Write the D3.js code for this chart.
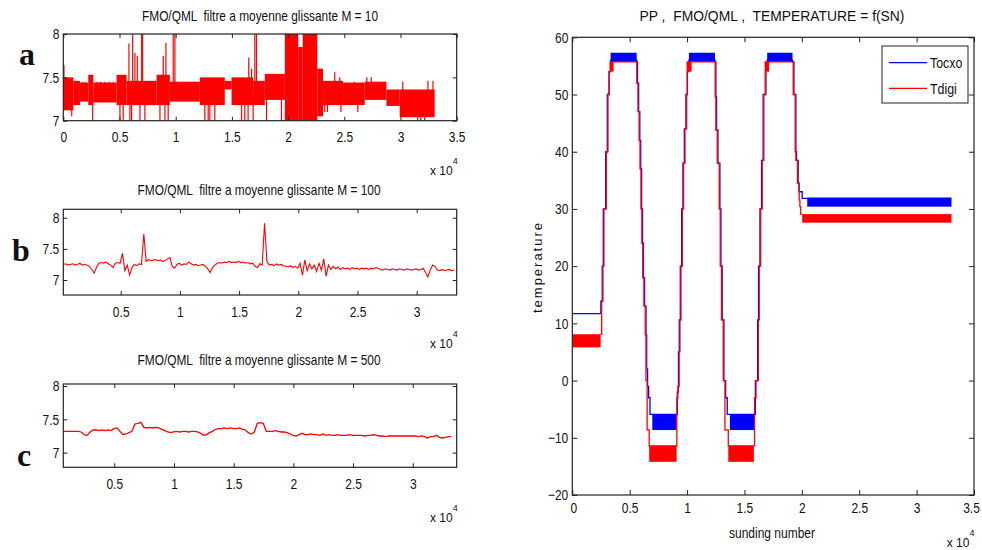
<!DOCTYPE html>
<html><head><meta charset="utf-8">
<script src="https://cdn.jsdelivr.net/npm/d3@7"></script>
<style>
body{margin:0;background:#fff}
svg{display:block}
text{font-family:"Liberation Sans",Arial,sans-serif;fill:#111}
</style>
</head><body>
<svg id="chart" width="982" height="550"></svg>
<script>
// ---------------- DATA ----------------
// Panel a (M = 10): band envelope segments (sounding number range, low/high value)
const aSegX0 = [0, 890, 1480, 2220, 2670, 4740, 5630, 8300, 9480, 12150, 14370, 14970, 16890, 17930, 19710, 20900, 21300, 22600, 23110, 24890, 26820, 28750, 29330, 29930];
const aSegX1 = [890, 1480, 2220, 2670, 4740, 5630, 8300, 9480, 12150, 14370, 14970, 16890, 17930, 19710, 20900, 21300, 22600, 23110, 24890, 26820, 28750, 29330, 29930, 33040];
const aSegLo = [7.12, 7.18, 7.22, 7.18, 7.21, 7.18, 7.18, 7.18, 7.22, 7.18, 7.36, 7.18, 7.18, 7.24, 7.0, 7.0, 7.0, 7.05, 7.18, 7.18, 7.24, 7.17, 7.17, 7.04];
const aSegHi = [7.50, 7.46, 7.44, 7.53, 7.44, 7.53, 7.46, 7.53, 7.45, 7.50, 7.46, 7.50, 7.46, 7.54, 8.0, 7.85, 8.0, 7.6, 7.46, 7.44, 7.45, 7.36, 7.36, 7.36];
// Panel a: isolated excursions (sounding number, low, high)
const aSpikeX  = [60, 1700, 1950, 3000, 3300, 3700, 4100, 4450, 5840, 6170, 6370, 6580, 6970, 7060, 8890, 9130, 9780, 9930, 16500, 16750, 17040, 17190, 24150, 24600, 25900, 27000, 27400, 30200, 32440, 32890,
                  750, 2610, 5040, 5330, 5930, 6080, 6820, 7260, 8600, 9040, 9330, 12590, 12890, 13040, 13480, 15860, 16150, 16440, 16890, 18080, 19410, 23260, 23500, 24700, 26200, 31530, 31800, 32150];
const aSpikeLo = [7.3, 7.3, 7.3, 7.3, 7.3, 7.3, 7.3, 7.3, 7.3, 7.3, 7.3, 7.3, 7.3, 7.3, 7.3, 7.3, 7.3, 7.3, 7.3, 7.3, 7.3, 7.3, 7.3, 7.3, 7.3, 7.3, 7.3, 7.3, 7.3, 7.3,
                  7.05, 7.0, 7.0, 7.0, 7.0, 7.0, 7.0, 7.0, 7.0, 7.0, 7.0, 7.0, 7.0, 7.0, 7.0, 7.0, 7.0, 7.0, 7.0, 7.0, 7.0, 7.1, 7.1, 7.1, 7.1, 7.0, 7.0, 7.0];
const aSpikeHi = [7.64, 7.45, 7.45, 7.45, 7.45, 7.45, 7.45, 7.45, 7.89, 8.0, 7.78, 7.75, 8.0, 8.0, 7.75, 7.9, 8.0, 8.0, 7.73, 7.6, 8.0, 8.0, 7.56, 7.5, 7.45, 7.5, 7.5, 7.45, 7.46, 7.46,
                  7.3, 7.3, 7.3, 7.3, 7.3, 7.3, 7.3, 7.3, 7.3, 7.3, 7.3, 7.3, 7.3, 7.3, 7.3, 7.3, 7.3, 7.3, 7.3, 7.3, 7.3, 7.3, 7.3, 7.3, 7.3, 7.3, 7.3, 7.3];

// Panel b (M = 100): samples every bStep soundings from bStart
const bStart = 150, bStep = 200;
const bValues = [7.25,7.26,7.24,7.25,7.26,7.24,7.25,7.27,7.24,7.25,7.24,7.22,7.17,7.11,7.20,7.27,7.28,7.27,7.29,7.26,
  7.24,7.20,7.27,7.28,7.27,7.43,7.15,7.24,7.08,7.20,7.25,7.23,7.26,7.25,7.74,7.30,7.33,7.31,7.32,7.33,
  7.31,7.32,7.30,7.31,7.34,7.36,7.22,7.19,7.25,7.27,7.24,7.26,7.25,7.29,7.26,7.24,7.25,7.23,7.24,7.25,
  7.22,7.18,7.12,7.20,7.24,7.27,7.28,7.27,7.29,7.28,7.30,7.28,7.29,7.28,7.30,7.28,7.29,7.27,7.28,7.26,
  7.27,7.22,7.20,7.26,7.24,7.91,7.30,7.24,7.25,7.23,7.26,7.24,7.25,7.23,7.22,7.21,7.23,7.20,7.22,7.19,
  7.27,7.08,7.32,7.15,7.26,7.18,7.24,7.14,7.27,7.16,7.34,7.06,7.24,7.17,7.22,7.18,7.21,7.17,7.20,7.18,
  7.19,7.17,7.20,7.18,7.19,7.17,7.19,7.18,7.19,7.17,7.19,7.18,7.20,7.19,7.17,7.16,7.18,7.17,7.16,7.18,
  7.17,7.16,7.18,7.17,7.16,7.18,7.17,7.16,7.17,7.18,7.16,7.17,7.19,7.12,7.05,7.16,7.24,7.22,7.16,7.15,
  7.17,7.15,7.16,7.17,7.15,7.16];

// Panel c (M = 500): samples every cStep soundings from cStart
const cStart = 730, cStep = 250;
const cValues = [7.32,7.32,7.32,7.32,7.32,7.32,7.31,7.27,7.26,7.31,7.34,7.34,7.33,7.34,7.33,7.34,7.33,7.36,7.37,7.32,
  7.27,7.28,7.30,7.32,7.43,7.44,7.455,7.38,7.37,7.38,7.37,7.38,7.37,7.35,7.33,7.31,7.30,7.31,7.32,7.31,
  7.32,7.32,7.31,7.32,7.32,7.31,7.29,7.26,7.27,7.30,7.32,7.35,7.36,7.36,7.37,7.36,7.37,7.36,7.36,7.37,
  7.35,7.34,7.30,7.28,7.31,7.44,7.45,7.44,7.32,7.32,7.32,7.33,7.32,7.31,7.31,7.30,7.28,7.26,7.25,7.27,
  7.29,7.27,7.27,7.28,7.27,7.27,7.26,7.28,7.26,7.27,7.26,7.26,7.27,7.26,7.26,7.26,7.27,7.26,7.26,7.26,
  7.26,7.25,7.26,7.26,7.27,7.26,7.25,7.25,7.24,7.25,7.25,7.25,7.25,7.25,7.25,7.25,7.25,7.25,7.25,7.24,
  7.25,7.24,7.22,7.24,7.24,7.26,7.23,7.22,7.23,7.24,7.24];

// Right panel: temperatures vs sounding number (step series + oscillation bands)
const tocxoX = [0, 2470, 2490, 2610, 2700, 2910, 3050, 3200, 3340, 5610, 5680, 5780, 5880, 5960, 6040, 6120, 6200, 6300, 6420, 6480, 6560, 6650, 6770, 9090, 9150, 9250, 9320, 9410, 9530, 9640, 9760, 9900, 10030, 10160, 12430, 12510, 12570, 12690, 12860, 12950, 13060, 13210, 13360, 13500, 15910, 15950, 16150, 16230, 16350, 16490, 16630, 16870, 16980, 19190, 19310, 19480, 19540, 19680, 19750, 20030, 20470];
const tocxoT = [11.7, 11.7, 13.9, 20, 30, 40, 50, 54, 56, 55.7, 52, 47, 42, 37, 30, 24, 18, 13, 8, 2, -1, -3, -5.9, -5.9, -2, 5, 10.6, 20, 30, 38, 44, 50, 54, 56, 55.7, 49.6, 43.8, 38, 30, 20, 10.6, 0, -3, -5.9, -5.9, 0, 10.6, 20, 30, 38.5, 50, 55, 56, 55.7, 50, 40, 38.5, 34.5, 33, 31.85, 31.85];
const tocxoBandX0 = [3340, 6970, 10160, 13730, 16980, 20470];
const tocxoBandX1 = [5610, 9090, 12430, 15910, 19190, 33040];
const tocxoBandLo = [55.7, -8.65, 55.7, -8.65, 55.7, 30.4];
const tocxoBandHi = [57.3, -5.9, 57.3, -5.9, 57.3, 32.0];

const digiX = [2470, 2560, 2670, 2760, 2970, 3110, 3220, 3300, 5620, 5720, 5820, 5900, 5980, 6060, 6140, 6240, 6360, 6420, 6520, 6700, 9090, 9110, 9200, 9310, 9380, 9470, 9590, 9700, 9820, 9960, 10010, 12450, 12510, 12630, 12800, 12890, 13000, 13150, 13300, 13590, 15820, 15880, 16010, 16210, 16290, 16410, 16550, 16690, 16810, 19250, 19420, 19480, 19620, 19770, 19830, 19890, 20030];
const digiT = [8.1, 13.9, 20, 30, 40, 50, 54, 55.7, 52, 47, 42, 37, 30, 24, 18, 13, 8, 0, -8.6, -11.4, -11.4, -3, -1, 5, 10.6, 20, 30, 38, 44, 50, 55.7, 49.6, 43.8, 38, 30, 20, 10.6, 0, -8.6, -11.4, -11.4, -3, 0, 10.6, 20, 30, 38.5, 50, 55.7, 50, 40, 38.5, 34.5, 31.6, 30.4, 29.1, 29.1];
const digiBandX0 = [0, 3280, 6700, 10010, 13590, 16810, 20030];
const digiBandX1 = [2470, 3600, 9090, 10400, 15820, 17150, 33040];
const digiBandLo = [5.8, 54.0, -14.2, 54.0, -14.2, 54.0, 27.6];
const digiBandHi = [8.1, 55.7, -11.4, 55.7, -11.4, 55.7, 29.1];

// Tick values
const xTicksFull = [0, 5000, 10000, 15000, 20000, 25000, 30000, 35000];
const xTicksInner = [5000, 10000, 15000, 20000, 25000, 30000];
const yTicksSmall = [7, 7.5, 8];
const yTicksTemp = [-20, -10, 0, 10, 20, 30, 40, 50, 60];
const legendNames = ["Tocxo", "Tdigi"];
const titles = ["FMO/QML  filtre a moyenne glissante M = 10", "FMO/QML  filtre a moyenne glissante M = 100", "FMO/QML  filtre a moyenne glissante M = 500", "PP ,  FMO/QML ,  TEMPERATURE = f(SN)"];

// ---------------- DRAWING ----------------
const RED = "#ff0000", BLUE = "#0000ff", AX = "#222";
const svg = d3.select("#chart");
const fmt = d3.format("~g");
const fmtX = d => fmt(d / 1e4);
const NARROW = 0.8;

function axes(x, y, xTicks, yTicks, xLabOff, tick) {
  const [L, R] = x.range(), [B, T] = y.range();
  const g = svg.append("g");
  const fix = sel => { sel.select(".domain").remove(); sel.selectAll("line").attr("stroke", AX); sel.selectAll("text").attr("font-family", null).attr("font-size", 15).attr("fill", "#111").classed("nar", true); };
  g.append("g").attr("transform", `translate(0,${B})`)
    .call(d3.axisBottom(x).tickValues(xTicks).tickSizeInner(-tick).tickSizeOuter(0).tickFormat(fmtX))
    .call(fix).call(s => s.selectAll("text").attr("dy", null).attr("y", xLabOff)
      .attr("x", d => (x(d) > 970 ? -3 : (x(d) > 570 && x(d) < 575 ? 1 : 0))));
  g.append("g").attr("transform", `translate(0,${T})`)
    .call(d3.axisTop(x).tickValues(xTicks).tickSizeInner(-tick).tickSizeOuter(0).tickFormat(""))
    .call(fix);
  g.append("g").attr("transform", `translate(${L},0)`)
    .call(d3.axisLeft(y).tickValues(yTicks).tickSizeInner(-tick).tickSizeOuter(0).tickPadding(4).tickFormat(fmt))
    .call(fix);
  g.append("g").attr("transform", `translate(${R},0)`)
    .call(d3.axisRight(y).tickValues(yTicks).tickSizeInner(-tick).tickSizeOuter(0).tickFormat(""))
    .call(fix);
  g.append("rect").attr("x", L).attr("y", T).attr("width", R - L).attr("height", B - T)
    .attr("fill", "none").attr("stroke", AX).attr("stroke-width", 1.2);
  return g;
}

function expo(xpos, base) {
  const t = svg.append("text").attr("x", xpos).attr("y", base).attr("font-size", 12);
  t.append("tspan").text("x 10");
  t.append("tspan").attr("dy", -11).attr("font-size", 9).text("4");
}

function title(txt, cx, base, len) {
  svg.append("text").attr("x", cx).attr("y", base).attr("text-anchor", "middle")
    .attr("font-size", 15).style("white-space", "pre")
    .attr("textLength", len).attr("lengthAdjust", "spacingAndGlyphs").text(txt);
}

function clip(id, x, y) {
  svg.append("clipPath").attr("id", id).append("rect")
    .attr("x", x.range()[0]).attr("y", y.range()[1])
    .attr("width", x.range()[1] - x.range()[0]).attr("height", y.range()[0] - y.range()[1]);
}

// ---- Panel a ----
const xa = d3.scaleLinear().domain([0, 35000]).range([63.3, 456.7]);
const ya = d3.scaleLinear().domain([7, 8]).range([120.7, 34]);
clip("ca", xa, ya);
const ga = svg.append("g").attr("clip-path", "url(#ca)");
ga.selectAll("rect.seg").data(d3.range(aSegX0.length)).join("rect")
  .attr("x", i => xa(aSegX0[i])).attr("width", i => xa(aSegX1[i]) - xa(aSegX0[i]))
  .attr("y", i => ya(aSegHi[i])).attr("height", i => ya(aSegLo[i]) - ya(aSegHi[i]))
  .attr("fill", RED);
ga.selectAll("line.sp").data(d3.range(aSpikeX.length)).join("line")
  .attr("x1", i => xa(aSpikeX[i])).attr("x2", i => xa(aSpikeX[i]))
  .attr("y1", i => ya(aSpikeLo[i])).attr("y2", i => ya(aSpikeHi[i]))
  .attr("stroke", RED).attr("stroke-width", 1.2);
axes(xa, ya, xTicksFull, yTicksSmall, 21, 4);
title(titles[0], 260, 21, 236);
expo(430, 175);

// ---- Panel b ----
const xb = d3.scaleLinear().domain([150, 33380]).range([63.3, 456.7]);
const yb = d3.scaleLinear().domain([6.76, 8.135]).range([295, 209.3]);
clip("cb", xb, yb);
svg.append("path").attr("clip-path", "url(#cb)")
  .datum(bValues).attr("fill", "none").attr("stroke", RED).attr("stroke-width", 1.1)
  .attr("d", d3.line().x((d, i) => xb(bStart + i * bStep)).y(d => yb(d)));
axes(xb, yb, xTicksInner, yTicksSmall, 21.7, 4);
title(titles[1], 259, 195, 243);
expo(430, 348);

// ---- Panel c ----
const xc = d3.scaleLinear().domain([730, 33680]).range([63.3, 456.7]);
const yc = d3.scaleLinear().domain([6.78, 8.03]).range([467.3, 384]);
clip("cc", xc, yc);
svg.append("path").attr("clip-path", "url(#cc)")
  .datum(cValues).attr("fill", "none").attr("stroke", RED).attr("stroke-width", 1.3)
  .attr("d", d3.line().x((d, i) => xc(cStart + i * cStep)).y(d => yc(d)));
axes(xc, yc, xTicksInner, yTicksSmall, 21.7, 4);
title(titles[2], 259, 365, 243);
expo(430, 521.7);

// panel letters
[["a", 19, 65], ["b", 12, 261], ["c", 17, 466]].forEach(([t, x, y]) =>
  svg.append("text").attr("x", x).attr("y", y).attr("font-size", 32).attr("font-weight", "bold")
    .style("font-family", '"Liberation Serif","Times New Roman",serif').text(t));

// ---- Right panel ----
const xr = d3.scaleLinear().domain([0, 35000]).range([572.3, 974]);
const yr = d3.scaleLinear().domain([-20, 60]).range([495, 37.3]);
clip("cr", xr, yr);
const gr = svg.append("g").attr("clip-path", "url(#cr)");
const stepLine = d3.line().curve(d3.curveStepAfter).x(d => xr(d[0])).y(d => yr(d[1]));
function bands(g, x0, x1, lo, hi, col) {
  g.append("g").selectAll("rect").data(d3.range(x0.length)).join("rect")
    .attr("x", i => xr(x0[i])).attr("width", i => xr(x1[i]) - xr(x0[i]))
    .attr("y", i => yr(hi[i])).attr("height", i => yr(lo[i]) - yr(hi[i]))
    .attr("fill", col);
}
bands(gr, tocxoBandX0, tocxoBandX1, tocxoBandLo, tocxoBandHi, BLUE);
gr.append("path").datum(d3.zip(tocxoX, tocxoT)).attr("fill", "none").attr("stroke", BLUE).attr("stroke-width", 1.3).attr("d", stepLine);
bands(gr, digiBandX0, digiBandX1, digiBandLo, digiBandHi, RED);
gr.append("path").datum(d3.zip(digiX, digiT)).attr("fill", "none").attr("stroke", RED).attr("stroke-width", 1.3).attr("d", stepLine);
axes(xr, yr, xTicksFull, yTicksTemp, 18.3, 5);
title(titles[3], 772, 21, 265);
expo(946.7, 546.7);
svg.append("text").attr("x", 772).attr("y", 538).attr("text-anchor", "middle").attr("font-size", 14.5)
  .attr("textLength", 86).attr("lengthAdjust", "spacingAndGlyphs").text("sunding number");
svg.append("text").attr("transform", "translate(542,268) rotate(-90)").attr("text-anchor", "middle")
  .attr("font-size", 13).attr("textLength", 90).attr("lengthAdjust", "spacing").text("temperature");

// legend
const lg = svg.append("g");
lg.append("rect").attr("x", 882).attr("y", 46).attr("width", 86).attr("height", 57)
  .attr("fill", "#fff").attr("stroke", AX).attr("stroke-width", 1);
[[BLUE, 62.7], [RED, 88.3]].forEach(([c, yy], i) => {
  lg.append("line").attr("x1", 889).attr("x2", 927).attr("y1", yy).attr("y2", yy).attr("stroke", c).attr("stroke-width", 1.3);
  lg.append("text").attr("x", 930).attr("y", yy + 5.5).attr("font-size", 15.5).classed("nar", true).text(legendNames[i]);
});

// condense tick and legend labels (narrow Helvetica look)
svg.selectAll("text.nar").each(function () {
  const L = this.getComputedTextLength();
  if (L > 0) d3.select(this).attr("textLength", L * NARROW).attr("lengthAdjust", "spacingAndGlyphs");
});
</script>
</body></html>
